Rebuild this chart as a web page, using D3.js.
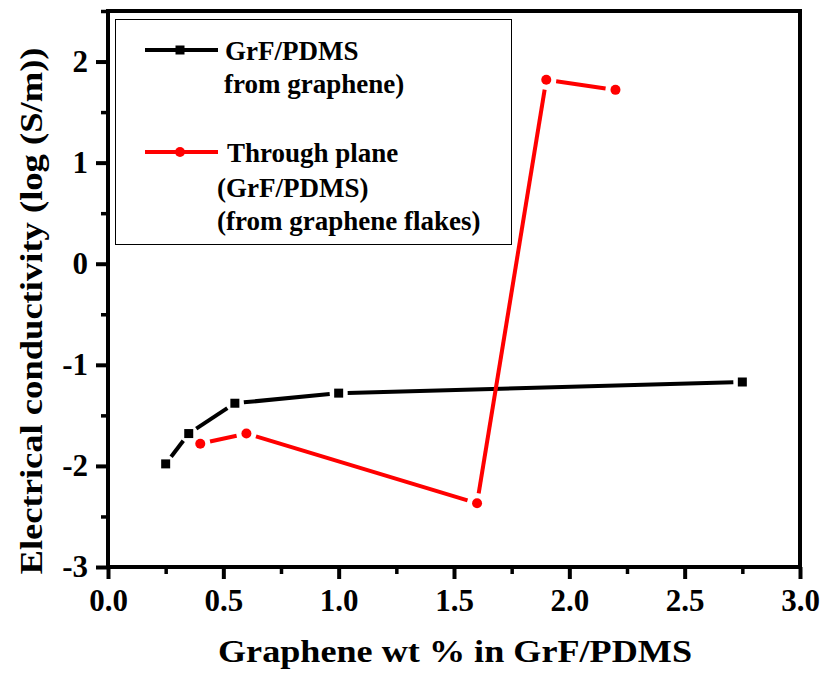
<!DOCTYPE html>
<html>
<head>
<meta charset="utf-8">
<script src="https://cdn.jsdelivr.net/npm/d3@7"></script>
<style>
  html, body { margin: 0; padding: 0; background: #fff; }
  svg text { font-family: "Liberation Serif", "Times New Roman", serif; font-weight: bold; fill: #000; }
</style>
</head>
<body>
<svg id="chart" width="827" height="675"></svg>
<script>
// Electrical conductivity (log S/m) vs graphene loading
const grfWt   = [0.25, 0.35, 0.55, 1.0, 2.75];
const grfCond = [-1.98, -1.68, -1.38, -1.28, -1.17];

const planeWt   = [0.4, 0.6, 1.6, 1.9, 2.2];
const planeCond = [-1.78, -1.68, -2.37, 1.82, 1.72];

const xTicks = [0, 0.5, 1.0, 1.5, 2.0, 2.5, 3.0];
const yTicks = [-3, -2, -1, 0, 1, 2];

const seriesNames = [["GrF/PDMS", "from graphene)"],
                     ["Through plane", "(GrF/PDMS)", "(from graphene flakes)"]];

const svg = d3.select("#chart");
const plotLeft = 108, plotRight = 800, plotTop = 11, plotBottom = 567;

const x = d3.scaleLinear().domain([0, 3]).range([plotLeft, plotRight]);
const y = d3.scaleLinear().domain([-3, 2.5]).range([plotBottom, plotTop]);

const styleText = g => g.selectAll("text")
  .attr("font-size", 31).attr("font-family", "Liberation Serif")
  .attr("font-weight", "bold").attr("fill", "#000");

// minor ticks
const xMinor = d3.range(0, 3.01, 0.25).filter(v => Math.abs(v * 2 - Math.round(v * 2)) > 1e-6);
const yMinor = d3.range(-3, 2.51, 0.5).filter(v => Math.abs(v - Math.round(v)) > 1e-6);

svg.append("g").attr("transform", `translate(0,${plotBottom})`)
  .call(d3.axisBottom(x).tickValues(xMinor).tickSize(7).tickSizeOuter(0).tickFormat(""))
  .call(g => g.select(".domain").remove())
  .call(g => g.selectAll("line").attr("stroke", "#000").attr("stroke-width", 3.5));
svg.append("g").attr("transform", `translate(${plotLeft},0)`)
  .call(d3.axisLeft(y).tickValues(yMinor).tickSize(7).tickSizeOuter(0).tickFormat(""))
  .call(g => g.select(".domain").remove())
  .call(g => g.selectAll("line").attr("stroke", "#000").attr("stroke-width", 3.5));

// major ticks and labels
svg.append("g").attr("transform", `translate(0,${plotBottom})`)
  .call(d3.axisBottom(x).tickValues(xTicks).tickSize(12).tickSizeOuter(0).tickPadding(10)
        .tickFormat(d3.format(".1f")))
  .call(g => g.select(".domain").remove())
  .call(g => g.selectAll("line").attr("stroke", "#000").attr("stroke-width", 4))
  .call(styleText);
svg.append("g").attr("transform", `translate(${plotLeft},0)`)
  .call(d3.axisLeft(y).tickValues(yTicks).tickSize(12).tickSizeOuter(0).tickPadding(8)
        .tickFormat(d => String(d)))
  .call(g => g.select(".domain").remove())
  .call(g => g.selectAll("line").attr("stroke", "#000").attr("stroke-width", 4))
  .call(styleText);

// frame
svg.append("rect").attr("x", plotLeft).attr("y", plotTop)
  .attr("width", plotRight - plotLeft).attr("height", plotBottom - plotTop)
  .attr("fill", "none").attr("stroke", "#000").attr("stroke-width", 4);

// axis titles
svg.append("text").attr("x", 455).attr("y", 662)
  .attr("text-anchor", "middle").attr("font-size", 31)
  .attr("textLength", 474).attr("lengthAdjust", "spacingAndGlyphs")
  .text("Graphene wt % in GrF/PDMS");
svg.append("text")
  .attr("transform", "translate(42,311) rotate(-90)")
  .attr("text-anchor", "middle").attr("font-size", 31)
  .attr("textLength", 527).attr("lengthAdjust", "spacingAndGlyphs")
  .text("Electrical conductivity (log (S/m))");

// draw a series: segments stop short of each marker
function drawSeries(xs, ys, color, gap, marker) {
  const pts = xs.map((v, i) => [x(v), y(ys[i])]);
  const g = svg.append("g");
  for (let i = 0; i < pts.length - 1; i++) {
    const [x0, y0] = pts[i], [x1, y1] = pts[i + 1];
    const len = Math.hypot(x1 - x0, y1 - y0);
    if (len <= 2 * gap) continue;
    const ux = (x1 - x0) / len, uy = (y1 - y0) / len;
    g.append("line")
      .attr("x1", x0 + ux * gap).attr("y1", y0 + uy * gap)
      .attr("x2", x1 - ux * gap).attr("y2", y1 - uy * gap)
      .attr("stroke", color).attr("stroke-width", 4);
  }
  pts.forEach(([px, py]) => marker(g, px, py));
}
const square = (g, px, py) => g.append("rect").attr("x", px - 4.5).attr("y", py - 4.5)
  .attr("width", 9).attr("height", 9).attr("fill", "#000");
const circle = (g, px, py) => g.append("circle").attr("cx", px).attr("cy", py)
  .attr("r", 5).attr("fill", "#ff0000");

drawSeries(grfWt, grfCond, "#000", 9, square);
drawSeries(planeWt, planeCond, "#ff0000", 10, circle);

// legend
const lg = svg.append("g");
lg.append("rect").attr("x", 115.5).attr("y", 19.5).attr("width", 396).attr("height", 225)
  .attr("fill", "#fff").attr("stroke", "#000").attr("stroke-width", 1);
lg.append("line").attr("x1", 145).attr("x2", 218).attr("y1", 50).attr("y2", 50)
  .attr("stroke", "#000").attr("stroke-width", 4);
square(lg, 180, 50);
lg.append("line").attr("x1", 145).attr("x2", 218).attr("y1", 152).attr("y2", 152)
  .attr("stroke", "#ff0000").attr("stroke-width", 4);
circle(lg, 180, 152);

const legendText = [
  { t: seriesNames[0][0], x: 225, y: 60 },
  { t: seriesNames[0][1], x: 224, y: 93 },
  { t: seriesNames[1][0], x: 227, y: 162 },
  { t: seriesNames[1][1], x: 217, y: 197 },
  { t: seriesNames[1][2], x: 217, y: 230 }
];
lg.selectAll("text.leg").data(legendText).join("text")
  .attr("class", "leg").attr("x", d => d.x).attr("y", d => d.y)
  .attr("font-size", 27).text(d => d.t);
</script>
</body>
</html>
